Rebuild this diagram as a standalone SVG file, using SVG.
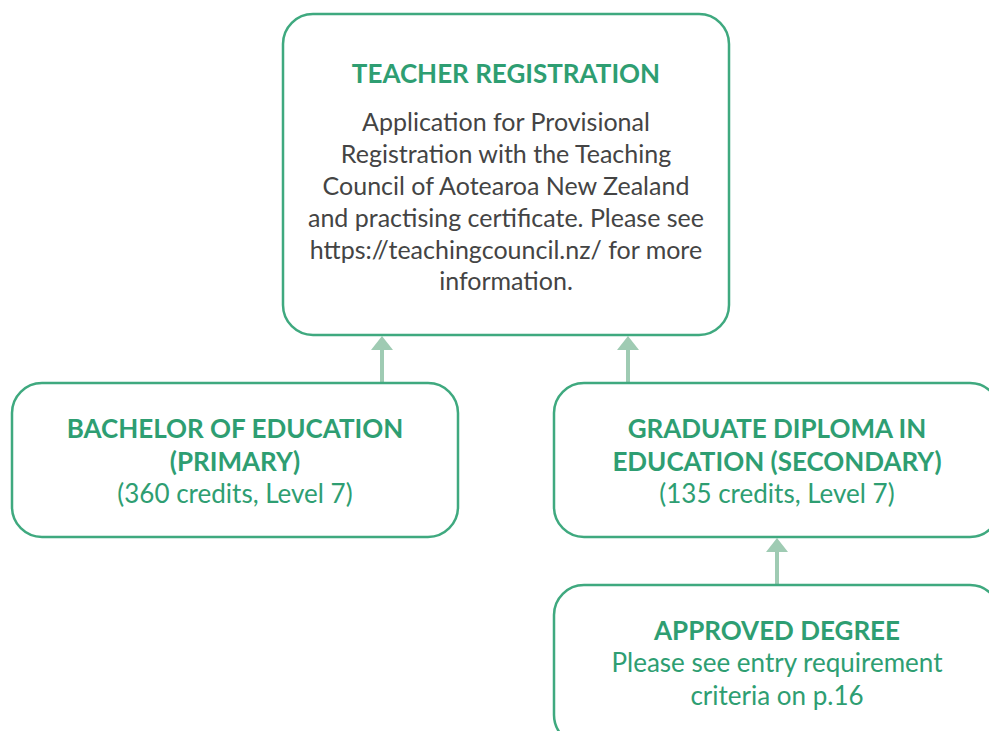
<svg xmlns="http://www.w3.org/2000/svg" width="989" height="731" viewBox="0 0 989 731">
<defs>
<style>
.box{fill:#fff;stroke:#3fa97f;stroke-width:2.5}
.t{font-family:Lato,"Noto Sans",sans-serif;font-size:26px;text-anchor:middle}
.h{font-weight:bold;fill:#2e9e72}
.g{fill:#2e9e72}
.b{fill:#444;font-size:25px}
.c{stroke:#9fcbb3;stroke-width:4;fill:none}
</style>
</defs>
<rect width="989" height="731" fill="#fff"/>
<g id="connectors">
<line class="c" x1="382" y1="383" x2="382" y2="350"/>
<path d="M371,350 L382,336 L393,350 Z" fill="#9fcbb3"/>
<line class="c" x1="628" y1="383" x2="628" y2="350"/>
<path d="M617,350 L628,336 L639,350 Z" fill="#9fcbb3"/>
<line class="c" x1="777" y1="585" x2="777" y2="552"/>
<path d="M766,552 L777,538 L788,552 Z" fill="#9fcbb3"/>
</g>
<g id="teacher-registration">
<rect class="box" x="283" y="14" width="446" height="321" rx="30"/>
<text class="t h" x="506" y="83">TEACHER REGISTRATION</text>
<text class="t b" x="506" y="131">Application for Provisional</text>
<text class="t b" x="506" y="163">Registration with the Teaching</text>
<text class="t b" x="506" y="195">Council of Aotearoa New Zealand</text>
<text class="t b" x="506" y="227">and practising certificate. Please see</text>
<text class="t b" x="506" y="259">https://teachingcouncil.nz/ for more</text>
<text class="t b" x="506" y="290">information.</text>
</g>
<g id="bachelor">
<rect class="box" x="12" y="383" width="446" height="154" rx="30"/>
<text class="t h" x="235" y="438">BACHELOR OF EDUCATION</text>
<text class="t h" x="235" y="471">(PRIMARY)</text>
<text class="t g" x="235" y="503">(360 credits, Level 7)</text>
</g>
<g id="graduate-diploma">
<rect class="box" x="554" y="383" width="446" height="154" rx="30"/>
<text class="t h" x="777" y="438">GRADUATE DIPLOMA IN</text>
<text class="t h" x="777" y="471">EDUCATION (SECONDARY)</text>
<text class="t g" x="777" y="503">(135 credits, Level 7)</text>
</g>
<g id="approved-degree">
<rect class="box" x="554" y="585" width="446" height="160" rx="30"/>
<text class="t h" x="777" y="640">APPROVED DEGREE</text>
<text class="t g" x="777" y="672">Please see entry requirement</text>
<text class="t g" x="777" y="705">criteria on p.16</text>
</g>
</svg>
